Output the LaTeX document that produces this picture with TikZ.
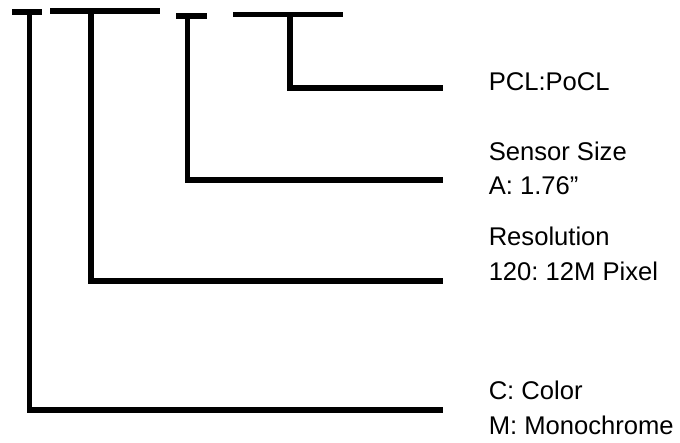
\documentclass[tikz,border=0pt]{standalone}
\usepackage{fontspec}
\setmainfont{Liberation Sans}
\frenchspacing
\begin{document}
\begin{tikzpicture}[x=0.5pt,y=-0.5pt,line width=2.75pt,
  lbl/.style={anchor=base west,inner sep=0pt,font=\fontsize{12.8}{15}\selectfont}]
\useasboundingbox (0,0) rectangle (680,443);
% bars on top
\coordinate (b1l) at (12,12);
\coordinate (b1r) at (42,12);
\coordinate (b2l) at (50,11);
\coordinate (b2r) at (160,11);
\coordinate (b3l) at (176,16);
\coordinate (b3r) at (207,16);
\coordinate (b4l) at (233,14.5);
\coordinate (b4r) at (343,14.5);
\coordinate (v1) at (29.5,12);
\coordinate (v2) at (91,11);
\coordinate (v3) at (187.5,16);
\coordinate (v4) at (290,14.5);
% line ends
\coordinate (e1) at (443,410);
\coordinate (e2) at (443,281);
\coordinate (e3) at (443,180);
\coordinate (e4) at (443,88);

\draw (b1l) -- (b1r);
\draw (b2l) -- (b2r);
\draw (b3l) -- (b3r);
\draw (b4l) -- (b4r);
\draw[line join=miter] (v1) |- (e1);
\draw[line join=miter] (v2) |- (e2);
\draw[line join=miter] (v3) |- (e3);
\draw[line join=miter] (v4) |- (e4);

\node[lbl] (t4) at (486,91) {PCL:PoCL};
\node[lbl] (t3a) at (486,161) {Sensor Size};
\node[lbl] (t3b) at (486,195) {A: 1.76”};
\node[lbl] (t2a) at (486,246) {Resolution};
\node[lbl] (t2b) at (486,281) {120: 12M Pixel};
\node[lbl] (t1a) at (486,399) {C: Color};
\node[lbl] (t1b) at (486,434) {M: Monochrome};
\end{tikzpicture}
\end{document}
